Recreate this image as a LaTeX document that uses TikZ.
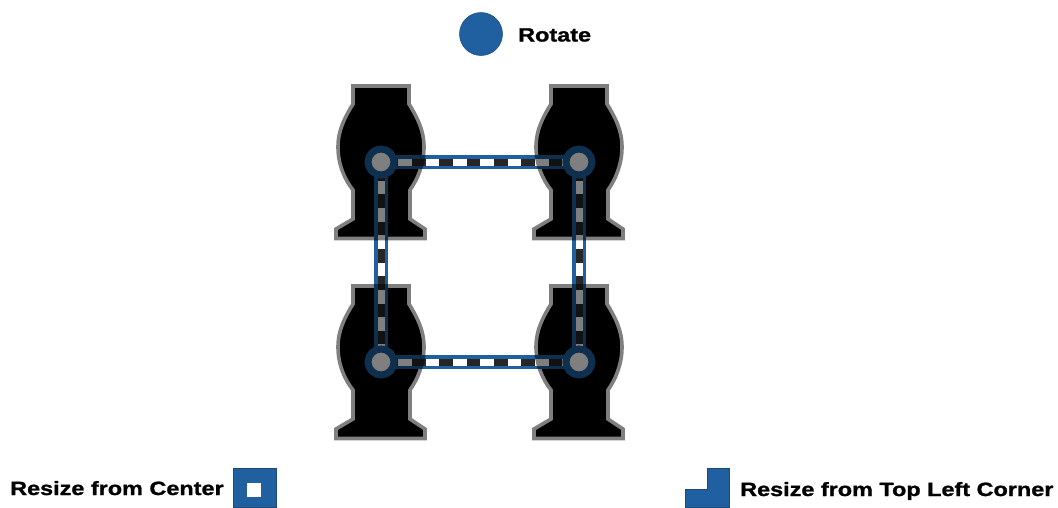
\documentclass[tikz,border=0pt]{standalone}
\usepackage{fontspec}
\setmainfont[FakeStretch=1.22,FakeBold=1.3]{Liberation Sans Bold}
\definecolor{hblue}{HTML}{2060A0}
\definecolor{hedge}{HTML}{1A4A7A}
\newcommand{\bottlepath}{(-28,0) -- (28,0) -- (28,18) .. controls (36,31) and (43,44) .. (43,61) .. controls (43,79) and (36,94) .. (29,104) -- (29,133) -- (44,143) -- (44,152.5) -- (-45,152.5) -- (-45,143) -- (-28,133) -- (-28,104) .. controls (-36,94) and (-43,79) .. (-43,61) .. controls (-43,44) and (-36,31) .. (-28,18) -- cycle}
\tikzset{
  barouter/.style={draw=hblue,line width=14.5pt},
  barinner/.style={draw=white,line width=7pt},
  hdash/.style={draw=black!85,line width=7pt,dash pattern=on 13.65pt off 13.65pt,dash phase=23.6pt},
  vdash/.style={draw=black!85,line width=7pt,dash pattern=on 13.65pt off 13.65pt,dash phase=22.3pt},
  pivot/.style={circle,draw=hblue,fill=white,line width=7pt,minimum size=26pt,inner sep=0pt,outer sep=0pt},
  label/.style={font=\fontsize{19.2}{21}\selectfont,inner sep=0pt,anchor=base west,text=black},
  handle/.style={fill=hblue,draw=hedge,line width=0.5pt},
}
\begin{document}
\begin{tikzpicture}[x=1pt,y=-1pt]
\useasboundingbox (0,0) rectangle (1058,507);
\coordinate (a) at (381,162);
\coordinate (b) at (579,162);
\coordinate (c) at (381,362);
\coordinate (d) at (579,362);
% solid bodies
\foreach \px/\py in {381/86,579/86,381/286,579/286}{
  \begin{scope}[shift={(\px,\py)}]
    \fill[black] \bottlepath;
    \draw[white,line width=3.6pt,line join=miter] \bottlepath;
  \end{scope}
}
% bars
\foreach \p/\q/\s in {a/b/hdash,c/d/hdash,a/c/vdash,b/d/vdash}{
  \draw[barouter] (\p) -- (\q);
  \draw[barinner] (\p) -- (\q);
  \draw[\s] (\p) -- (\q);
}
% pivots
\node[pivot] (pa) at (a) {};
\node[pivot] (pb) at (b) {};
\node[pivot] (pc) at (c) {};
\node[pivot] (pd) at (d) {};
% half-dark veil of the bodies
\foreach \px/\py in {381/86,579/86,381/286,579/286}{
  \begin{scope}[shift={(\px,\py)},transparency group,opacity=0.5]
    \draw[black,fill=black,line width=3.6pt] \bottlepath;
  \end{scope}
}
% legend
\node[circle,handle,minimum size=43pt,inner sep=0pt] (rot) at (481,34) {};
\node[label] (rotl) at (518,41.5) {Rotate};
\node[label] (cenl) at (10,495) {Resize from Center};
\node[handle,minimum width=43pt,minimum height=39pt,inner sep=0pt] (cen) at (254.5,487.5) {};
\node[fill=white,minimum size=14pt,inner sep=0pt] (ceni) at (254,490) {};
\node[label] (cornl) at (740,496) {Resize from Top Left Corner};
\draw[handle] (707,468) -- (729,468) -- (729,507) -- (685,507) -- (685,489) -- (707,489) -- cycle;
\end{tikzpicture}
\end{document}
